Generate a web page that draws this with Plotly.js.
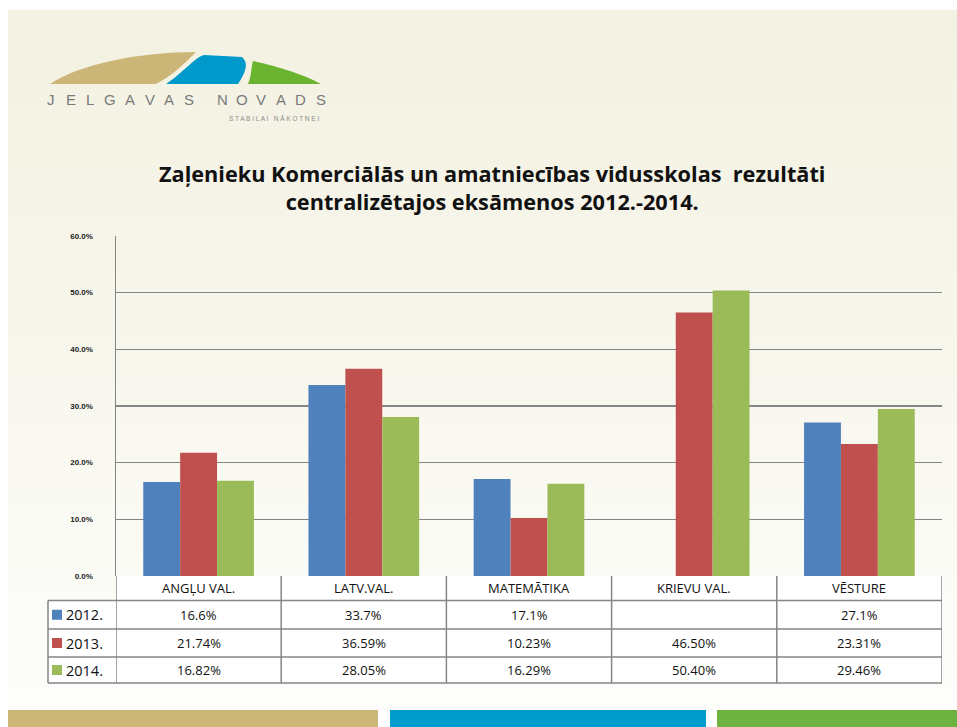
<!DOCTYPE html>
<html>
<head>
<meta charset="utf-8">
<script src="https://cdn.plot.ly/plotly-3.0.1.min.js"></script>
<style>
  html, body { margin: 0; padding: 0; background: #ffffff; }
  #wrap { position: relative; width: 957px; height: 727px; overflow: hidden; background: #ffffff; }
  #bg { position: absolute; left: 8px; top: 10px; width: 949px; height: 700px;
        background: linear-gradient(to bottom, #f3f1e1 0%, #f7f6ec 45%, #fbfbf6 80%, #fdfdfb 100%); }
  #chart { position: absolute; left: 0; top: 0; width: 957px; height: 727px; }
</style>
</head>
<body>
<div id="wrap"><div id="bg"></div><div id="chart"></div></div>
<script>
// ---- data ----
var categories = ["ANGĻU VAL.", "LATV.VAL.", "MATEMĀTIKA", "KRIEVU VAL.", "VĒSTURE"];
var seriesNames = ["2012.", "2013.", "2014."];
var values2012 = [16.6, 33.7, 17.1, null, 27.1];
var values2013 = [21.74, 36.59, 10.23, 46.50, 23.31];
var values2014 = [16.82, 28.05, 16.29, 50.40, 29.46];
var decimals = [1, 2, 2];
var yTickValues = [0, 10, 20, 30, 40, 50, 60];
var yTickLabels = ["0.0%", "10.0%", "20.0%", "30.0%", "40.0%", "50.0%", "60.0%"];
var titleText = "Zaļenieku Komerciālās un amatniecības vidusskolas  rezultāti<br>centralizētajos eksāmenos 2012.-2014.";

var colors = ["#4f81bd", "#c0504d", "#9bbb59"];
var allSeries = [values2012, values2013, values2014];

var W = 957, H = 727;
function px(x) { return x / W; }
function py(y) { return 1 - y / H; }
function path(pts) {
  return pts.map(function (c) {
    var out = c[0];
    for (var i = 1; i < c.length; i += 2) {
      out += " " + px(c[i]).toFixed(5) + "," + py(c[i + 1]).toFixed(5);
    }
    return out;
  }).join(" ") + " Z";
}

var plotLeft = 116, plotRight = 942, plotTop = 236, plotBottom = 576;
var rowEdges = [576, 600.5, 629, 657, 683];
var legendLeft = 48;
var gridColor = "#858585";
var tableFont = "'Open Sans', 'Liberation Sans', sans-serif";

var traces = allSeries.map(function (vals, i) {
  return {
    type: "bar",
    name: seriesNames[i],
    x: categories,
    y: vals,
    marker: { color: colors[i], line: { width: 0 } },
    hoverinfo: "skip",
    showlegend: false
  };
});

var shapes = [];
var annotations = [];

shapes.push({ type: "rect", xref: "x", yref: "paper", x0: -0.5, x1: 4.5,
  y0: py(rowEdges[4]), y1: py(rowEdges[0]), fillcolor: "#ffffff", line: { width: 0 }, layer: "below" });
shapes.push({ type: "rect", xref: "paper", yref: "paper", x0: px(legendLeft), x1: px(plotLeft),
  y0: py(rowEdges[4]), y1: py(rowEdges[1]), fillcolor: "#ffffff", line: { width: 0 }, layer: "below" });

for (var k = 0; k <= categories.length; k++) {
  shapes.push({ type: "line", xref: "x", yref: "paper", x0: k - 0.5, x1: k - 0.5,
    y0: py(rowEdges[0]), y1: py(rowEdges[4]), line: { color: gridColor, width: 1.5 } });
}
shapes.push({ type: "line", xref: "paper", yref: "paper", x0: px(legendLeft), x1: px(legendLeft),
  y0: py(rowEdges[1]), y1: py(rowEdges[4]), line: { color: gridColor, width: 1.5 } });
for (var r = 1; r < rowEdges.length; r++) {
  shapes.push({ type: "line", xref: "paper", yref: "paper", x0: px(legendLeft), x1: px(plotRight),
    y0: py(rowEdges[r]), y1: py(rowEdges[r]), line: { color: gridColor, width: 1.5 } });
}

categories.forEach(function (c) {
  annotations.push({ xref: "x", yref: "paper", x: c, y: py((rowEdges[0] + rowEdges[1]) / 2),
    text: c, showarrow: false, xanchor: "center", yanchor: "middle",
    font: { family: tableFont, size: 13, color: "#111111" } });
});
allSeries.forEach(function (vals, i) {
  var yc = py((rowEdges[i + 1] + rowEdges[i + 2]) / 2);
  vals.forEach(function (v, j) {
    if (v === null) return;
    annotations.push({ xref: "x", yref: "paper", x: categories[j], y: yc,
      text: v.toFixed(decimals[i]) + "%", showarrow: false, xanchor: "center", yanchor: "middle",
      font: { family: tableFont, size: 13, color: "#111111" } });
  });
  var ym = (rowEdges[i + 1] + rowEdges[i + 2]) / 2;
  shapes.push({ type: "rect", xref: "paper", yref: "paper", x0: px(52), x1: px(62),
    y0: py(ym + 5), y1: py(ym - 5), fillcolor: colors[i], line: { width: 0 } });
  annotations.push({ xref: "paper", yref: "paper", x: px(64), y: py(ym),
    text: seriesNames[i], showarrow: false, xanchor: "left", yanchor: "middle",
    font: { family: tableFont, size: 14.5, color: "#111111" } });
});

// bottom decorative bands
shapes.push({ type: "rect", xref: "paper", yref: "paper", x0: px(8), x1: px(378), y0: 0, y1: py(710),
  fillcolor: "#ccb779", line: { width: 0 } });
shapes.push({ type: "rect", xref: "paper", yref: "paper", x0: px(390), x1: px(706), y0: 0, y1: py(710),
  fillcolor: "#009ccc", line: { width: 0 } });
shapes.push({ type: "rect", xref: "paper", yref: "paper", x0: px(717), x1: 1, y0: 0, y1: py(710),
  fillcolor: "#6cb33f", line: { width: 0 } });

// logo swooshes
shapes.push({ type: "path", xref: "paper", yref: "paper", fillcolor: "#cbb678", line: { width: 0 },
  path: path([["M", 50, 84], ["C", 80, 64, 140, 52, 196, 52], ["C", 184, 64, 172, 76, 156, 84]]) });
shapes.push({ type: "path", xref: "paper", yref: "paper", fillcolor: "#0099cc", line: { width: 0 },
  path: path([["M", 166, 84], ["C", 184, 72, 194, 58, 204, 55], ["L", 242, 57], ["C", 249, 63, 246, 72, 238, 84]]) });
shapes.push({ type: "path", xref: "paper", yref: "paper", fillcolor: "#6ab42f", line: { width: 0 },
  path: path([["M", 248, 84], ["C", 252, 75, 251, 67, 253, 61], ["C", 280, 67, 305, 75, 321, 84]]) });

// logo text
var word1 = "JELGAVAS".split(""), word2 = "NOVADS".split("");
word1.forEach(function (ch, i) {
  annotations.push({ xref: "paper", yref: "paper", x: px(51 + i * 19.7), y: py(100), text: ch,
    showarrow: false, xanchor: "center", yanchor: "middle",
    font: { family: "'Liberation Sans', Arial, sans-serif", size: 15, color: "#7a7a7a" } });
});
word2.forEach(function (ch, i) {
  annotations.push({ xref: "paper", yref: "paper", x: px(222 + i * 19.7), y: py(100), text: ch,
    showarrow: false, xanchor: "center", yanchor: "middle",
    font: { family: "'Liberation Sans', Arial, sans-serif", size: 15, color: "#7a7a7a" } });
});
annotations.push({ xref: "paper", yref: "paper", x: px(322), y: py(119), text: "S T A B I L A I   N Ā K O T N E I",
  showarrow: false, xanchor: "right", yanchor: "middle",
  font: { family: "'Liberation Sans', Arial, sans-serif", size: 6.5, color: "#8a8a8a" } });

// title
annotations.push({ xref: "paper", yref: "paper", x: px(492), y: py(188), text: titleText,
  showarrow: false, xanchor: "center", yanchor: "middle", align: "center",
  font: { family: "'Open Sans', Lato, sans-serif", size: 21.7, color: "#111111", weight: "bold" } });

var layout = {
  width: W, height: H,
  margin: { l: 0, r: 0, t: 0, b: 0 },
  paper_bgcolor: "rgba(0,0,0,0)",
  plot_bgcolor: "rgba(0,0,0,0)",
  barmode: "group",
  bargap: 0.33,
  bargroupgap: 0,
  showlegend: false,
  xaxis: {
    domain: [px(plotLeft), px(plotRight)],
    type: "category",
    range: [-0.5, 4.5],
    showticklabels: false,
    showgrid: false,
    zeroline: false,
    showline: false,
    ticks: ""
  },
  yaxis: {
    domain: [py(plotBottom), py(plotTop)],
    range: [0, 60],
    tickmode: "array",
    tickvals: yTickValues,
    ticktext: yTickLabels,
    showgrid: true,
    gridcolor: gridColor,
    gridwidth: 1.5,
    zeroline: false,
    showline: true,
    linecolor: gridColor,
    linewidth: 1.5,
    ticks: "",
    ticklabelstandoff: 20,
    tickfont: { family: "'Liberation Sans', Arial, sans-serif", size: 8, color: "#222222", weight: "bold" }
  },
  shapes: shapes,
  annotations: annotations
};

Plotly.newPlot("chart", traces, layout, { displayModeBar: false, staticPlot: true });
</script>
</body>
</html>
